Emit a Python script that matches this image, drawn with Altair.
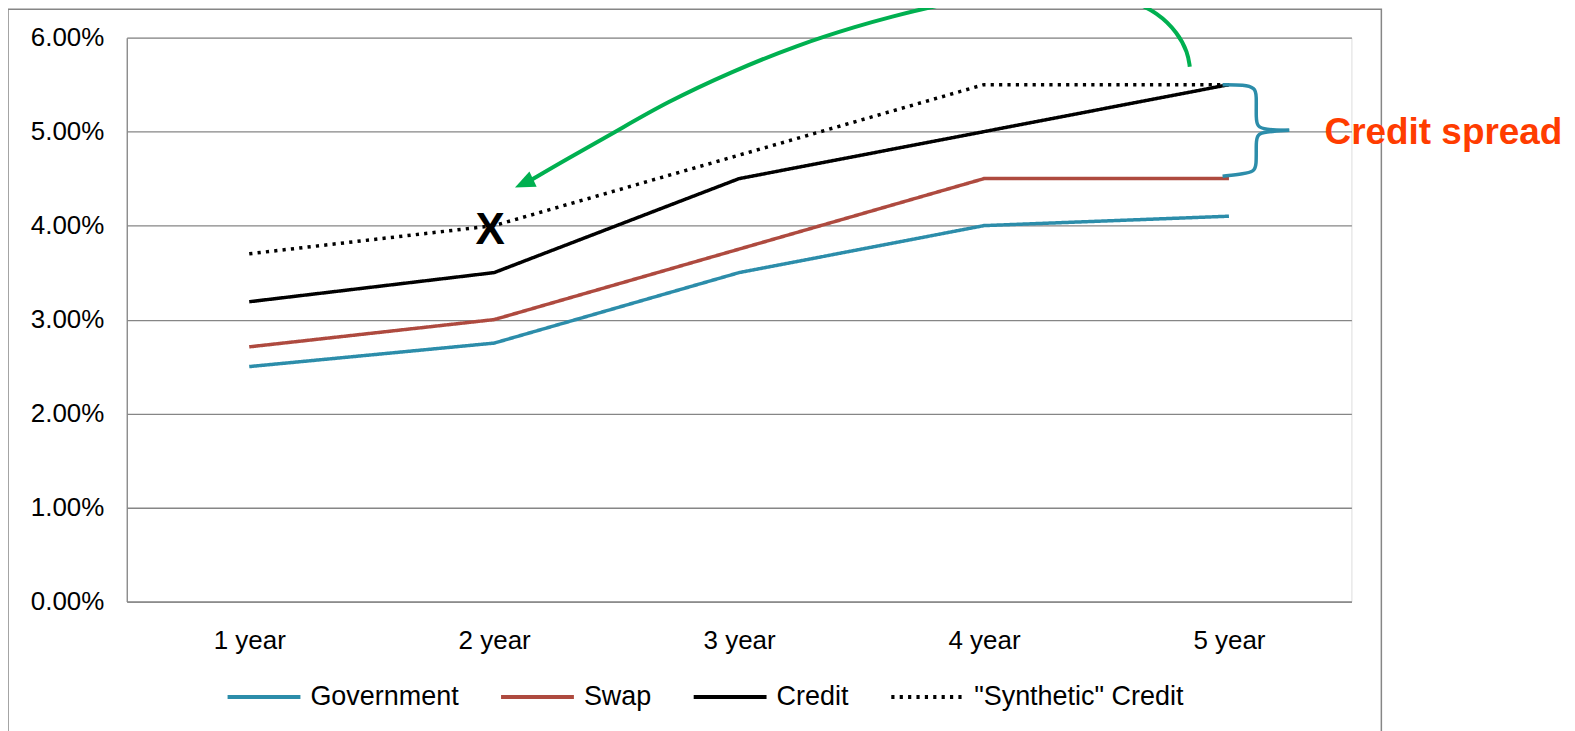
import altair as alt
import pandas as pd

# ---- data ----
tenors = [1, 2, 3, 4, 5]
tenor_labels = ["1 year", "2 year", "3 year", "4 year", "5 year"]
series_names = ["Government", "Swap", "Credit", "\"Synthetic\" Credit"]
government = [2.5, 2.75, 3.5, 4.0, 4.1]
swap = [2.71, 3.0, 3.75, 4.5, 4.5]
credit = [3.19, 3.5, 4.5, 5.0, 5.5]
synthetic = [3.7, 4.0, 4.75, 5.5, 5.5]
series_colors = ["#2C8DAA", "#AE4A3F", "#000000", "#000000"]
series_dash = [[1, 0], [1, 0], [1, 0], [3.2, 5.2]]

y_ticks = [0, 1, 2, 3, 4, 5, 6]

# annotation: "X" at 2 year synthetic point
x_mark_x = [2]
x_mark_y = [4.0]

# annotation: green curved arrow (data coordinates)
arrow_x = [4.840, 4.832, 4.791, 4.709, 4.599, 4.465, 4.282, 4.098, 3.935, 3.784,
           3.621, 3.487, 3.242, 2.969, 2.700, 2.497, 2.293, 2.154]
arrow_y = [5.691, 5.840, 6.052, 6.265, 6.403, 6.488, 6.520, 6.488, 6.403, 6.328,
           6.222, 6.127, 5.925, 5.638, 5.308, 5.000, 4.703, 4.490]
arrow_tip_x = [2.085]
arrow_tip_y = [4.405]

# annotation: brace spanning credit spread at 5 year
brace_top_x = [4.974, 5.063, 5.106, 5.113, 5.110, 5.117, 5.144, 5.246]
brace_top_y = [5.499, 5.499, 5.464, 5.393, 5.130, 5.056, 5.021, 5.014]
brace_bot_x = [5.246, 5.144, 5.117, 5.110, 5.113, 5.101, 5.063, 4.974]
brace_bot_y = [5.014, 4.997, 4.968, 4.897, 4.631, 4.578, 4.551, 4.525]

label_x = [5.39]
label_y = [5.0]
label_text = ["Credit spread"]

# ---- tables ----
rows = []
for name, vals in zip(series_names, [government, swap, credit, synthetic]):
    for t, v in zip(tenors, vals):
        rows.append({"x": t, "y": v, "series": name})
lines_df = pd.DataFrame(rows)

arrow_df = pd.DataFrame({"x": arrow_x, "y": arrow_y, "i": list(range(len(arrow_x)))})
head_df = pd.DataFrame({"x": arrow_tip_x, "y": arrow_tip_y})
brace_rows = []
for part, xs, ys in [("top", brace_top_x, brace_top_y), ("bot", brace_bot_x, brace_bot_y)]:
    for i, (a, b) in enumerate(zip(xs, ys)):
        brace_rows.append({"x": a, "y": b, "part": part, "i": i})
brace_df = pd.DataFrame(brace_rows)
xmark_df = pd.DataFrame({"x": x_mark_x, "y": x_mark_y, "t": ["X"]})
label_df = pd.DataFrame({"x": label_x, "y": label_y, "t": label_text})

FONT = "Liberation Sans"
GRID = "#868686"

label_expr = "[" + ",".join("'" + s + "'" for s in tenor_labels) + "][datum.value - 1]"

x_enc = alt.X(
    "x:Q",
    scale=alt.Scale(domain=[0.5, 5.5], nice=False, zero=False),
    axis=alt.Axis(
        values=tenors, labelExpr=label_expr, title=None, grid=False, ticks=False,
        labelPadding=26, labelFontSize=26, labelFont=FONT, labelColor="black",
        domainColor=GRID, domainWidth=1.3, labelOverlap=False,
    ),
)
y_enc = alt.Y(
    "y:Q",
    scale=alt.Scale(domain=[0, 6], nice=False, zero=True),
    axis=alt.Axis(
        values=y_ticks, labelExpr="format(datum.value, '.2f') + '%'", title=None,
        grid=True, gridColor=GRID, gridWidth=1.3, ticks=False, labelPadding=23,
        labelFontSize=26, labelFont=FONT, labelColor="black",
        domainColor=GRID, domainWidth=1.3, labelOverlap=False,
    ),
)

legend_cfg = dict(
    title=None, orient="none", direction="horizontal", legendX=99, legendY=622,
    symbolType="stroke", symbolSize=5329, symbolStrokeWidth=4,
    labelFontSize=27, labelFont=FONT, labelColor="black", labelOffset=8,
    columnPadding=34, columns=4, labelLimit=400,
)

frame = alt.Chart(alt.Data(values=[{"k": 1}])).mark_rect(
    fillOpacity=0, stroke=GRID, strokeWidth=1.5, clip=False
).encode(
    x=alt.value(-119), x2=alt.value(1257), y=alt.value(-28.5), y2=alt.value(720)
)

lines = alt.Chart(lines_df).mark_line(strokeWidth=3.5, clip=False).encode(
    x=x_enc,
    y=y_enc,
    color=alt.Color(
        "series:N",
        scale=alt.Scale(domain=series_names, range=series_colors),
        legend=alt.Legend(**legend_cfg),
    ),
    strokeDash=alt.StrokeDash(
        "series:N",
        scale=alt.Scale(domain=series_names, range=series_dash),
        legend=alt.Legend(**legend_cfg),
    ),
)

xmark = alt.Chart(xmark_df).mark_text(
    font=FONT, fontSize=44, fontWeight="bold", color="black",
    align="center", baseline="alphabetic", dx=-4, dy=18, clip=False
).encode(x=x_enc, y=y_enc, text="t:N")

arrow = alt.Chart(arrow_df).mark_line(
    color="#00B050", strokeWidth=4, interpolate="basis", clip=False
).encode(x=x_enc, y=y_enc, order="i:Q")

# arrowhead: custom path with its tip at the symbol origin
head = alt.Chart(head_df).mark_point(
    shape="M0,0L1.81,-0.068L1.207,-1.349Z", size=576, filled=True,
    color="#00B050", opacity=1, strokeWidth=0, clip=False
).encode(x=x_enc, y=y_enc)

brace = alt.Chart(brace_df).mark_line(
    color="#2C8DAA", strokeWidth=3.5, interpolate="basis", clip=False
).encode(x=x_enc, y=y_enc, detail="part:N", order="i:Q")

label = alt.Chart(label_df).mark_text(
    font=FONT, fontSize=37, fontWeight="bold", color="#FF3C00",
    align="left", baseline="alphabetic", dy=12, clip=False
).encode(x=x_enc, y=y_enc, text="t:N")

chart = alt.layer(frame, lines, xmark, arrow, head, brace, label).properties(
    width=1227, height=565,
    autosize=alt.AutoSizeParams(type="none"),
    padding={"left": 119, "top": 29, "right": 216, "bottom": 129},
).configure_view(strokeWidth=0).configure(background="white")

chart.save("out.html", embed_options={"renderer": "svg", "actions": False})
